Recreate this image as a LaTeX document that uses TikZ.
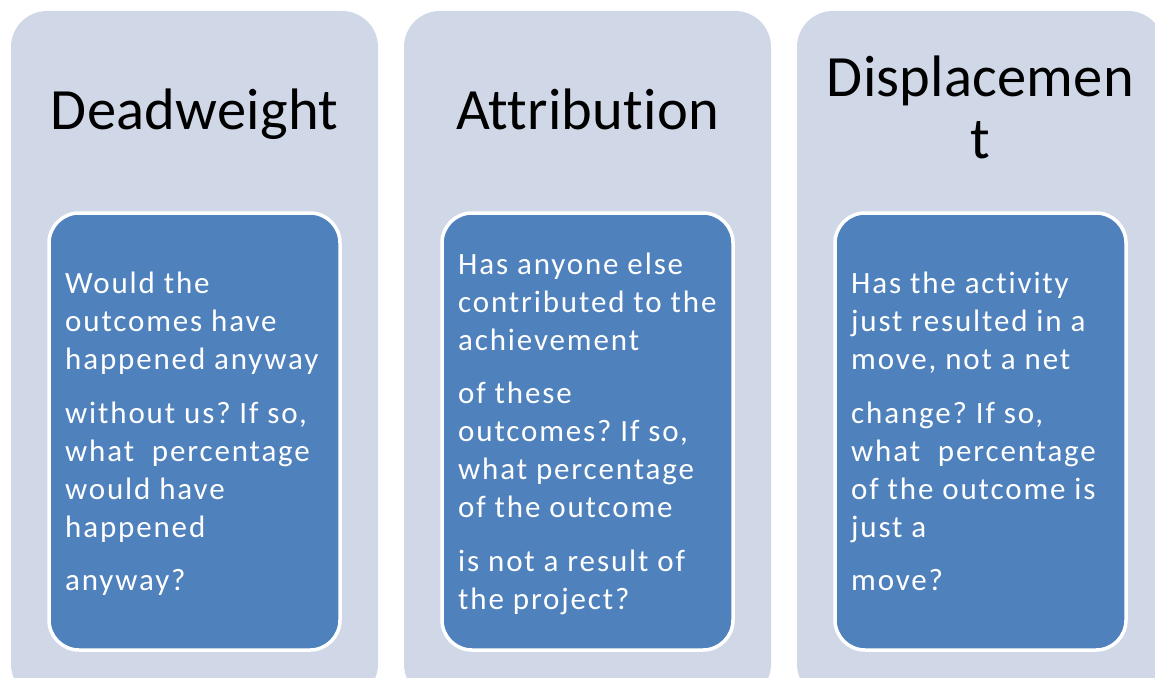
\documentclass[tikz,border=0pt]{standalone}
\usepackage{fontspec}
\setmainfont{Carlito}[Ligatures=CommonOff]
\definecolor{outerfill}{HTML}{D0D8E8}
\definecolor{innerfill}{HTML}{4F81BD}
\frenchspacing
\begin{document}
\begin{tikzpicture}[x=1pt,y=-1pt,
  outerbox/.style={fill=outerfill,draw=none,rounded corners=36pt},
  innerbox/.style={fill=innerfill,draw=white,line width=3.5pt,rounded corners=30pt},
  titletext/.style={anchor=base,font=\fontsize{58.5}{62}\selectfont\addfontfeature{LetterSpace=0.4}\frenchspacing,text=black,inner sep=0pt},
  bodytext/.style={anchor=base west,font=\fontsize{31}{38}\selectfont\addfontfeature{LetterSpace=6}\frenchspacing,text=white,inner sep=0pt}]
\useasboundingbox (0,0) rectangle (1155,677);
\clip (0,0) rectangle (1155,677);
\fill[white] (0,0) rectangle (1155,677);
% outer boxes
\path[outerbox] (11,11) rectangle (378,700);
\path[outerbox] (404,11) rectangle (771,700);
\path[outerbox] (797,11) rectangle (1164,700);
% inner boxes
\path[innerbox] (49,213) rectangle (340,650);
\path[innerbox] (442,213) rectangle (733,650);
\path[innerbox] (835,213) rectangle (1126,650);
% titles
\node[titletext] (t1) at (194.5,129) {Deadweight};
\node[titletext] (t2) at (587.5,129) {Attribution};
\node[titletext] (t3a) at (980.5,96) {Displacemen};
\node[titletext] (t3b) at (980.5,158) {t};
% box 1 text
\node[bodytext] (a1) at (65,293) {Would the};
\node[bodytext] (a2) at (65,331) {outcomes have};
\node[bodytext] (a3) at (65,369) {happened anyway};
\node[bodytext] (a4) at (65,423) {without us? If so,};
\node[bodytext] (a5) at (65,461) {what\ \ percentage};
\node[bodytext] (a6) at (65,499) {would have};
\node[bodytext] (a7) at (65,537) {happened};
\node[bodytext] (a8) at (65,590) {anyway?};
% box 2 text
\node[bodytext] (b1) at (458,274) {Has anyone else};
\node[bodytext] (b2) at (458,312) {contributed to the};
\node[bodytext] (b3) at (458,350) {achievement};
\node[bodytext] (b4) at (458,403) {of these};
\node[bodytext] (b5) at (458,441) {outcomes? If so,};
\node[bodytext] (b6) at (458,479) {what percentage};
\node[bodytext] (b7) at (458,517) {of the outcome};
\node[bodytext] (b8) at (458,571) {is not a result of};
\node[bodytext] (b9) at (458,609) {the project?};
% box 3 text
\node[bodytext] (c1) at (851,293) {Has the activity};
\node[bodytext] (c2) at (851,331) {just resulted in a};
\node[bodytext] (c3) at (851,369) {move, not a net};
\node[bodytext] (c4) at (851,423) {change? If so,};
\node[bodytext] (c5) at (851,461) {what\ \ percentage};
\node[bodytext] (c6) at (851,499) {of the outcome is};
\node[bodytext] (c7) at (851,537) {just a};
\node[bodytext] (c8) at (851,590) {move?};
\end{tikzpicture}
\end{document}
